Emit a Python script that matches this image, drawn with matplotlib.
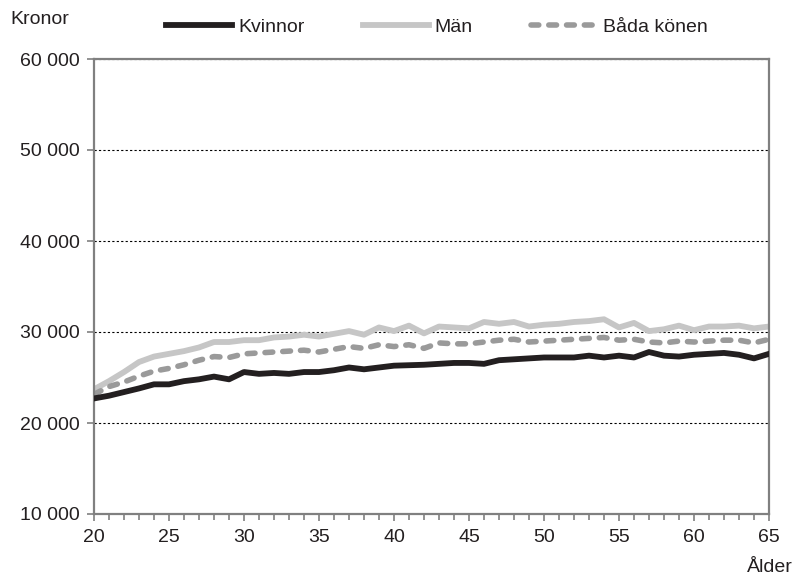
import numpy as np
import matplotlib
matplotlib.use('Agg')
import matplotlib.pyplot as plt
from matplotlib.ticker import MultipleLocator, FuncFormatter

plt.rcParams['font.family'] = ['Liberation Sans', 'DejaVu Sans']

# data (kronor per month by age)
age = np.arange(20, 66)
kvinnor = [22700, 23000, 23400, 23800, 24250, 24250, 24600, 24800, 25100, 24800,
           25600, 25400, 25500, 25400, 25600, 25600, 25800, 26100, 25900, 26100,
           26300, 26350, 26400, 26500, 26600, 26600, 26500, 26900, 27000, 27100,
           27200, 27200, 27200, 27400, 27200, 27400, 27200, 27800, 27400, 27300,
           27500, 27600, 27700, 27500, 27100, 27600]
man = [23700, 24600, 25600, 26700, 27300, 27600, 27900, 28300, 28900, 28900,
       29100, 29100, 29400, 29500, 29700, 29500, 29800, 30100, 29700, 30500,
       30100, 30700, 29850, 30600, 30500, 30400, 31100, 30900, 31100, 30600,
       30800, 30900, 31100, 31200, 31400, 30500, 31000, 30100, 30300, 30700,
       30200, 30600, 30600, 30700, 30400, 30600]
bada = [23150, 24000, 24500, 25150, 25700, 26000, 26400, 26900, 27300, 27200,
        27600, 27700, 27800, 27900, 28000, 27800, 28100, 28400, 28200, 28600,
        28400, 28600, 28200, 28800, 28700, 28700, 28900, 29100, 29200, 28900,
        29000, 29100, 29200, 29300, 29400, 29100, 29200, 28900, 28800, 29000,
        28900, 29000, 29100, 29100, 28800, 29200]

txt = '#231f20'
spine = '#808080'
fs = 14

fig = plt.figure(figsize=(7.94, 5.80), dpi=100)
ax = fig.add_axes([94/794, 66/580, 675/794, 455/580])

ax.plot(age, kvinnor, color='#231f20', lw=4.2, solid_joinstyle='round', label='Kvinnor', zorder=3)
ax.plot(age, man, color='#c6c6c6', lw=4.2, solid_joinstyle='round', label='Män', zorder=2)
ax.plot(age, bada, color='#9a9a9a', lw=4.0, linestyle=(0, (1.4, 1.8)),
        dash_capstyle='round', label='Båda könen', zorder=2)

ax.set_xlim(20, 65)
ax.set_ylim(10000, 60000)
ax.xaxis.set_major_locator(MultipleLocator(5))
ax.xaxis.set_minor_locator(MultipleLocator(1))
ax.yaxis.set_major_locator(MultipleLocator(10000))
ax.yaxis.set_major_formatter(FuncFormatter(lambda v, p: f'{int(v):,}'.replace(',', ' ')))

ax.grid(axis='y', color='black', linestyle=(0, (2, 2)), linewidth=0.8, zorder=0)
ax.set_axisbelow(True)
for s in ax.spines.values():
    s.set_color(spine)
    s.set_linewidth(1.6)

ax.tick_params(axis='both', which='major', direction='out', length=5, width=1.2,
               color=spine, labelcolor=txt, labelsize=fs, pad=6)
ax.tick_params(axis='x', which='minor', direction='out', length=4, width=1.2, color=spine)
ax.tick_params(axis='y', pad=5)

fig.text(10/794, 1 - 20/580, 'Kronor', fontsize=fs, color=txt, va='center', ha='left')
fig.text(770/794, 1 - 567/580, 'Ålder', fontsize=fs, color=txt, va='center', ha='center')

leg = fig.legend(loc='center', bbox_to_anchor=(437/794, 1 - 27/580), ncol=3, frameon=False,
                 fontsize=fs, handlelength=3.4, handletextpad=0.3, columnspacing=3.0,
                 labelcolor=txt)

fig.savefig('out.png', dpi=100)
